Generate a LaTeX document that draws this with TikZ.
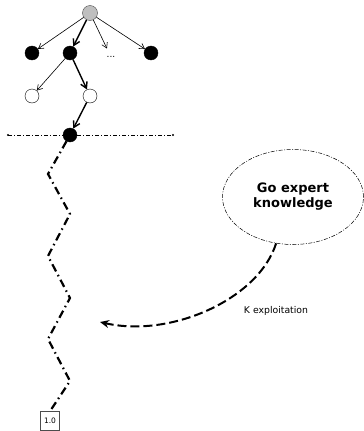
\documentclass[tikz,border=0pt]{standalone}
\usepackage{fontspec}
\setmainfont{DejaVu Sans}
\usetikzlibrary{shapes.geometric,arrows.meta}
\begin{document}
\begin{tikzpicture}[x=1pt,y=-1pt,
  blk/.style={circle,fill=black,draw=black,minimum size=14pt,inner sep=0pt},
  wht/.style={circle,fill=white,draw=black,minimum size=14pt,inner sep=0pt},
  gry/.style={circle,fill=black!25,draw=black!70,minimum size=15pt,inner sep=0pt},
  thinedge/.style={-{Straight Barb[length=5pt,width=6pt]},line width=0.6pt},
  thickedge/.style={-{Straight Barb[length=6pt,width=7pt]},line width=1.4pt},
  zig/.style={line width=2.2pt,dash pattern=on 8pt off 4pt on 1.5pt off 4pt},
  hline/.style={line width=0.6pt,dash pattern=on 4pt off 2pt on 1pt off 2pt}]
\useasboundingbox (0,0) rectangle (364,431);
\node[gry] (r) at (90,13) {};
\node[blk] (a) at (32,53) {};
\node[blk] (b) at (70,53) {};
\node[inner sep=0.5pt,font=\fontsize{9}{9}\selectfont] (d) at (111,57) {...};
\node[blk] (c) at (151,53) {};
\node[wht] (e) at (32,96) {};
\node[wht] (f) at (90,96) {};
\node[blk] (g) at (70,135) {};
\draw[thinedge,shorten >=8pt] (r) -- (d);
\draw[thinedge] (r) -- (a);
\draw[thickedge] (r) -- (b);
\draw[thinedge] (r) -- (c);
\draw[thinedge] (b) -- (e);
\draw[thickedge] (b) -- (f);
\draw[thickedge] (f) -- (g);
\coordinate (hl) at (8,135);
\coordinate (hr) at (173,135);
\draw[hline] (hl) -- (g) -- (hr);
\fill (hl) circle (1.2pt);
\fill (hr) circle (1.2pt);
\node[draw=black!70,line width=0.5pt,minimum size=19pt,inner sep=1pt,font=\fontsize{7.5}{8}\selectfont] (box) at (50,421) {1.0};
\coordinate (z1) at (48,174);
\coordinate (z2) at (70,214);
\coordinate (z3) at (48,256);
\coordinate (z4) at (70,298);
\coordinate (z5) at (48,339);
\coordinate (z6) at (70,381);
\draw[zig] (g) -- (z1) -- (z2) -- (z3) -- (z4) -- (z5) -- (z6) -- (box.north);
\node[ellipse,draw,line width=0.5pt,dash pattern=on 4pt off 1.5pt on 1pt off 1.5pt,minimum width=141pt,minimum height=95pt,align=center,font=\fontsize{13}{15}\selectfont\bfseries] (k) at (293,197) {Go expert\\knowledge};
\coordinate (t) at (100,322);
\draw[line width=2pt,dash pattern=on 9pt off 4pt,-{Stealth[length=9pt,width=8pt]}] (k.250) .. controls (258,300) and (170,338) .. (t);
\node[font=\fontsize{9.3}{10}\selectfont] (lab) at (276,311) {K exploitation};
\end{tikzpicture}
\end{document}
